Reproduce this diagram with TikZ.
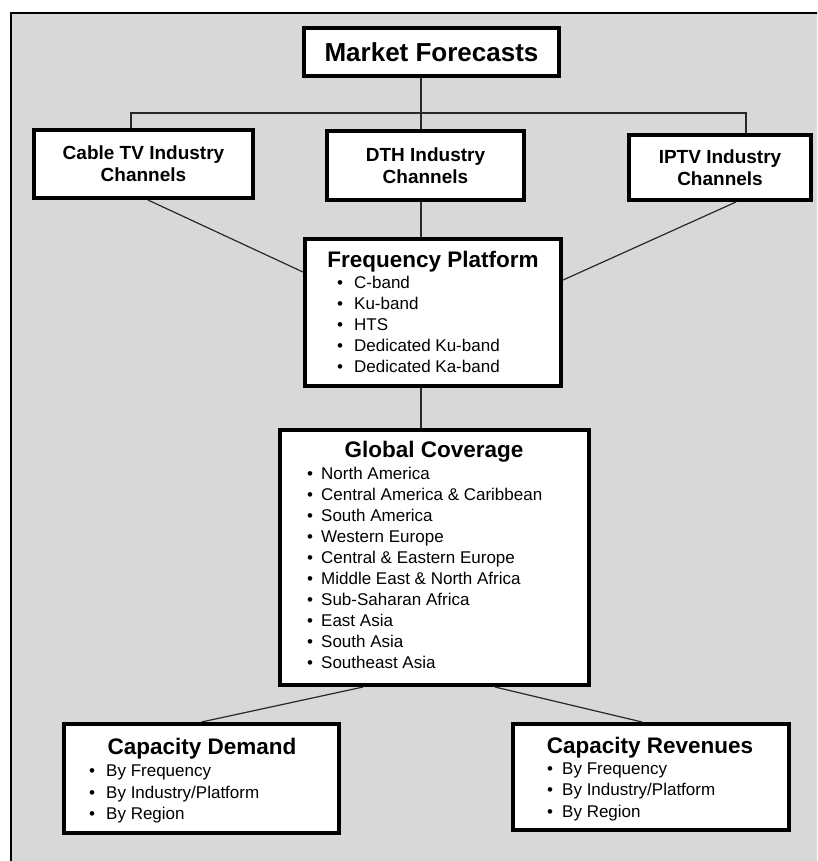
\documentclass[tikz,border=0pt]{standalone}
\usepackage{fontspec}
\setmainfont{Liberation Sans}
\usetikzlibrary{calc}
\definecolor{bg}{RGB}{216,216,216}
\definecolor{lnc}{RGB}{40,40,40}
\begin{document}
\begin{tikzpicture}[x=1pt,y=-1pt,
  box/.style={draw=black, line width=4pt, fill=white, inner sep=0pt, rectangle},
  conn/.style={draw=lnc, line width=1.2pt},
  ttl/.style={font=\bfseries\fontsize{22.5}{26}\selectfont, anchor=base, inner sep=0pt},
  hdr/.style={font=\bfseries\fontsize{19}{22}\selectfont, align=center, inner sep=0pt},
  itm/.style={font=\fontsize{17}{21}\selectfont, anchor=base west, inner sep=0pt},
  bul/.style={font=\fontsize{17}{21}\selectfont, anchor=base, inner sep=0pt}]
\useasboundingbox (0,0) rectangle (817,861);
\begin{scope}
\clip (0,0) rectangle (817,861);
\draw[fill=bg, line width=2.2pt] (11,13) rectangle (840,880);
\end{scope}

% boxes
\node[box, minimum width=255pt, minimum height=48pt] (mf) at (431.5,52) {};
\node[box, minimum width=219pt, minimum height=68pt] (cable) at (143.5,164) {};
\node[box, minimum width=197pt, minimum height=69pt] (dth) at (425.5,165.5) {};
\node[box, minimum width=182pt, minimum height=65pt] (iptv) at (720,167.5) {};
\node[box, minimum width=256pt, minimum height=147pt] (freq) at (433,312.5) {};
\node[box, minimum width=309pt, minimum height=255pt] (glob) at (434.5,557.5) {};
\node[box, minimum width=275pt, minimum height=109pt] (cd) at (201.5,778.5) {};
\node[box, minimum width=276pt, minimum height=106pt] (cr) at (651,777) {};

% junction coordinates
\coordinate (jc) at (421,113);
\coordinate (jl) at (131,113);
\coordinate (jr) at (746,113);

% connectors
\draw[conn] (mf.south -| jc) -- (dth.north -| jc);
\draw[conn] (cable.north -| jl) -- (jl) -- (jr) -- (iptv.north -| jr);
\draw[conn] (dth.south -| jc) -- (freq.north -| jc);
\draw[conn] ($(cable.south west)!0.52!(cable.south east)$) -- ($(freq.north west)!0.232!(freq.south west)$);
\draw[conn] ($(iptv.south west)!0.586!(iptv.south east)$) -- ($(freq.north east)!0.285!(freq.south east)$);
\draw[conn] (freq.south -| jc) -- (glob.north -| jc);
\draw[conn] ($(glob.south west)!0.272!(glob.south east)$) -- (cd.north);
\draw[conn] ($(glob.south west)!0.693!(glob.south east)$) -- ($(cr.north west)!0.468!(cr.north east)$);

% texts
\node[font=\bfseries\fontsize{26}{30}\selectfont, inner sep=0pt] (mft) at (mf.center) {Market Forecasts};
\node[hdr] (cablet) at (cable.center) {Cable TV Industry\\Channels};
\node[hdr] (dtht) at (dth.center) {DTH Industry\\Channels};
\node[hdr] (iptvt) at (iptv.center) {IPTV Industry\\Channels};

\node[ttl] (freqt) at (433,267) {Frequency Platform};
\foreach \t [count=\i] in {C-band, Ku-band, HTS, Dedicated Ku-band, Dedicated Ka-band} {
  \node[bul] (fb\i) at (340,267+21*\i) {•};
  \node[itm] (fi\i) at (354,267+21*\i) {\t};
}

\node[ttl] (globt) at (434,457) {Global Coverage};
\foreach \t [count=\i] in {North America, Central America \& Caribbean, South America, Western Europe, Central \& Eastern Europe, Middle East \& North Africa, Sub-Saharan Africa, East Asia, South Asia, Southeast Asia} {
  \node[bul] (gb\i) at (310,458+21*\i) {•};
  \node[itm] (gi\i) at (321,458+21*\i) {\t};
}

\node[ttl] (cdt) at (202,754) {Capacity Demand};
\foreach \t [count=\i] in {By Frequency, By Industry/Platform, By Region} {
  \node[bul] (cdb\i) at (92,755+21.5*\i) {•};
  \node[itm] (cdi\i) at (106,755+21.5*\i) {\t};
}

\node[ttl] (crt) at (650,753) {Capacity Revenues};
\foreach \t [count=\i] in {By Frequency, By Industry/Platform, By Region} {
  \node[bul] (crb\i) at (550,752.5+21.5*\i) {•};
  \node[itm] (cri\i) at (562,752.5+21.5*\i) {\t};
}
\end{tikzpicture}
\end{document}
